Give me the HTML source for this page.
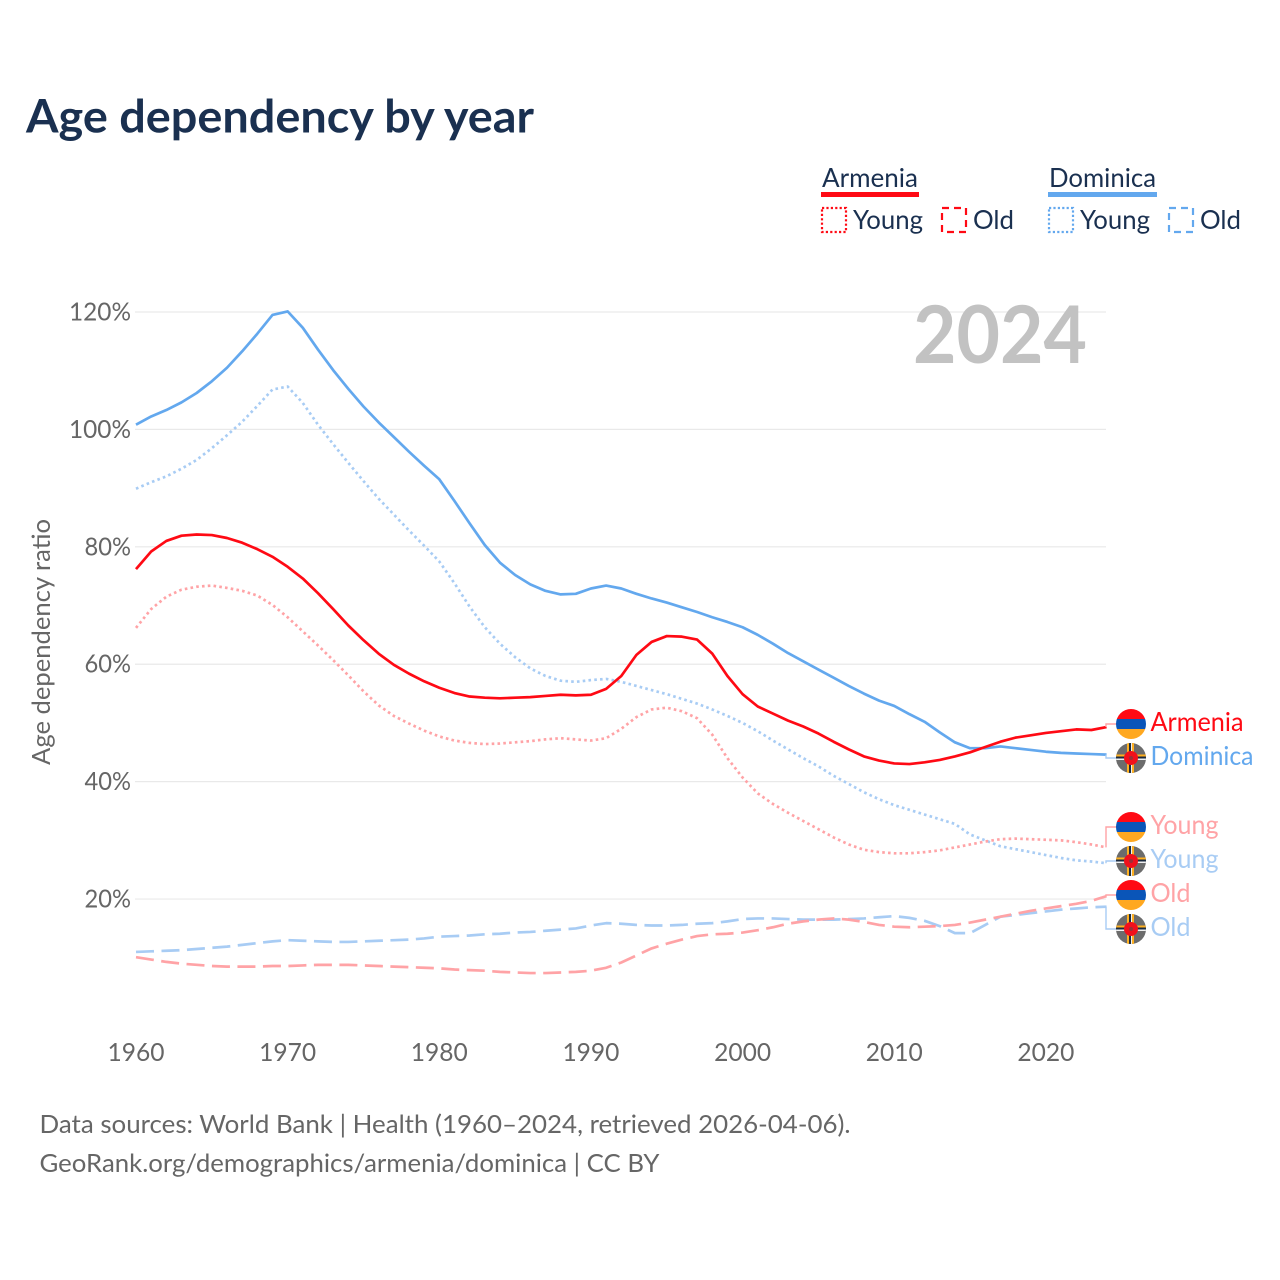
<!DOCTYPE html>
<html lang="en">
<head>
<meta charset="utf-8">
<title>Age dependency by year</title>
<style>
html,body{margin:0;padding:0;background:#fff}
svg{display:block;font-family:"Lato","Carlito","Liberation Sans",sans-serif}
</style>
</head>
<body>
<svg id="chart" xmlns="http://www.w3.org/2000/svg" width="1280" height="1280" viewBox="0 0 1280 1280">
<rect width="1280" height="1280" fill="#ffffff"/>
<text x="26" y="132.5" font-size="46" font-weight="700" fill="#1a3050" textLength="508" lengthAdjust="spacingAndGlyphs">Age dependency by year</text>

<g font-size="26" fill="#1a3050">
<text x="822" y="187" textLength="96" lengthAdjust="spacingAndGlyphs">Armenia</text>
<rect x="821" y="192" width="98" height="5" fill="#ff0a14"/>
<rect x="822" y="208" width="24" height="24" fill="none" stroke="#ff0a14" stroke-width="2.2" stroke-dasharray="2.2 2.2"/>
<text x="853" y="229" textLength="70" lengthAdjust="spacingAndGlyphs">Young</text>
<rect x="942" y="208" width="24" height="24" fill="none" stroke="#ff0a14" stroke-width="2.2" stroke-dasharray="7 5"/>
<text x="973" y="229" textLength="41" lengthAdjust="spacingAndGlyphs">Old</text>
<text x="1049" y="187" textLength="107" lengthAdjust="spacingAndGlyphs">Dominica</text>
<rect x="1048" y="192" width="109" height="5" fill="#63a8ee"/>
<rect x="1049" y="208" width="24" height="24" fill="none" stroke="#63a8ee" stroke-width="2.2" stroke-dasharray="2.2 2.2"/>
<text x="1080" y="229" textLength="70" lengthAdjust="spacingAndGlyphs">Young</text>
<rect x="1169" y="208" width="24" height="24" fill="none" stroke="#63a8ee" stroke-width="2.2" stroke-dasharray="7 5"/>
<text x="1200" y="229" textLength="41" lengthAdjust="spacingAndGlyphs">Old</text>
</g>

<g id="grid"></g>
<g id="yticks"></g>
<g id="xticks"></g>
<text transform="translate(50,642) rotate(-90)" text-anchor="middle" font-size="25" fill="#666666" textLength="246" lengthAdjust="spacingAndGlyphs">Age dependency ratio</text>
<text x="913" y="363" font-size="80" font-weight="700" fill="#c2c2c2" textLength="174" lengthAdjust="spacingAndGlyphs">2024</text>

<g id="series"></g>
<g id="endlabels"></g>

<g font-size="25.5" fill="#666666">
<text x="39.5" y="1133" textLength="811" lengthAdjust="spacingAndGlyphs">Data sources: World Bank | Health (1960–2024, retrieved 2026-04-06).</text>
<text x="39.5" y="1172" textLength="620" lengthAdjust="spacingAndGlyphs">GeoRank.org/demographics/armenia/dominica | CC BY</text>
</g>
</svg>

<script>
var startYear = 1960;
var xTickYears = [1960, 1970, 1980, 1990, 2000, 2010, 2020];
var yTickValues = [20, 40, 60, 80, 100, 120];
var yTickLabels = ["20%", "40%", "60%", "80%", "100%", "120%"];

var armeniaTotal = [76.2,79.2,81,81.9,82.1,82,81.5,80.7,79.6,78.3,76.6,74.6,72.1,69.4,66.6,64.1,61.8,59.9,58.4,57.1,56,55.1,54.5,54.3,54.2,54.3,54.4,54.6,54.8,54.7,54.8,55.8,58,61.6,63.8,64.8,64.7,64.2,61.8,58,54.9,52.8,51.6,50.4,49.4,48.2,46.8,45.5,44.3,43.6,43.1,43,43.3,43.7,44.3,45,45.9,46.8,47.5,47.9,48.3,48.6,48.9,48.8,49.3];
var dominicaTotal = [100.8,102.2,103.3,104.6,106.2,108.2,110.5,113.3,116.3,119.5,120.1,117.3,113.6,110.1,106.9,103.9,101.2,98.7,96.2,93.8,91.5,87.8,84,80.3,77.3,75.2,73.6,72.5,71.9,72,72.9,73.4,72.9,72,71.2,70.5,69.7,68.9,68,67.2,66.3,65,63.5,61.9,60.5,59.1,57.7,56.3,55,53.8,52.9,51.5,50.2,48.4,46.7,45.7,45.7,46,45.7,45.4,45.1,44.9,44.8,44.7,44.6];
var armeniaYoung = [66.2,69.4,71.5,72.7,73.2,73.4,73,72.5,71.7,70.1,68,65.6,63.2,60.7,58.1,55.4,53,51.2,49.9,48.7,47.7,47,46.6,46.4,46.5,46.7,46.9,47.2,47.4,47.2,47,47.4,49,51,52.3,52.6,52,50.8,48,44,40.7,38,36.2,34.7,33.3,31.9,30.5,29.3,28.4,28,27.8,27.8,28,28.3,28.8,29.3,29.8,30.2,30.3,30.2,30.1,30,29.7,29.3,28.8];
var dominicaYoung = [89.9,91,92,93.3,94.8,96.8,99,101.3,104,106.8,107.3,104.5,100.8,97.5,94.3,91.2,88.2,85.5,82.8,80.2,77.5,73.8,69.8,66.3,63.5,61.2,59.3,58,57.2,57,57.3,57.5,57,56.3,55.6,54.9,54.1,53.3,52.3,51.2,50,48.6,47,45.5,44,42.6,41,39.6,38.2,37,36,35.2,34.4,33.6,32.8,31,30,29,28.5,28,27.5,27,26.6,26.4,26.1];
var armeniaOld = [10.1,9.7,9.3,9,8.8,8.6,8.5,8.5,8.5,8.6,8.6,8.7,8.8,8.8,8.8,8.7,8.6,8.5,8.4,8.3,8.2,8,7.9,7.8,7.6,7.5,7.4,7.4,7.5,7.6,7.8,8.3,9.2,10.4,11.6,12.4,13.1,13.7,14,14.1,14.3,14.7,15.2,15.8,16.2,16.5,16.7,16.5,16.1,15.6,15.3,15.2,15.3,15.4,15.6,16,16.5,17,17.5,18,18.4,18.8,19.2,19.7,20.5];
var dominicaOld = [11,11.1,11.2,11.3,11.5,11.7,11.9,12.2,12.5,12.8,13,12.9,12.8,12.7,12.7,12.8,12.9,13,13.1,13.3,13.6,13.7,13.8,14,14.1,14.3,14.4,14.6,14.8,15,15.5,15.9,15.8,15.6,15.5,15.5,15.6,15.8,15.9,16.2,16.6,16.7,16.7,16.6,16.5,16.5,16.5,16.6,16.7,16.9,17.1,16.8,16.3,15.4,14.2,14.2,15.6,17,17.3,17.6,17.9,18.2,18.4,18.6,18.7];

var NS = "http://www.w3.org/2000/svg";
function xScale(year) { return 136 + (year - 1960) * 15.165; }
function yScale(value) { return 1016.5 - value * 5.871; }
function make(tag, attrs, parent) {
  var el = document.createElementNS(NS, tag);
  for (var k in attrs) el.setAttribute(k, attrs[k]);
  parent.appendChild(el);
  return el;
}

var gridG = document.getElementById("grid");
var yTicksG = document.getElementById("yticks");
var xTicksG = document.getElementById("xticks");

yTickValues.forEach(function (v, i) {
  var line = make("line", {x1: 135, x2: 1106, y1: yScale(v), y2: yScale(v), stroke: "#e9e9e9", "stroke-width": 1.2}, gridG);
  
  
  var label = make("text", {x: 131, y: yScale(v) + 8.5, "text-anchor": "end", "font-size": 25, fill: "#666666", textLength: yTickLabels[i].length * 15.5, lengthAdjust: "spacingAndGlyphs"}, yTicksG);
  
  
  label.textContent = yTickLabels[i];
});

xTickYears.forEach(function (yr) {
  var label = make("text", {x: xScale(yr), y: 1061, "text-anchor": "middle", "font-size": 25, fill: "#666666", textLength: 57, lengthAdjust: "spacingAndGlyphs"}, xTicksG);
  
  
  label.textContent = String(yr);
});

var RED = "#ff0a14", BLUE = "#63a8ee", LRED = "#ffa3a6", LBLUE = "#a8ccf4";
var seriesG = document.getElementById("series");

function pointsOf(values) {
  return values.map(function (v, i) {
    return xScale(startYear + i).toFixed(2) + "," + yScale(v).toFixed(2);
  }).join(" ");
}
function drawLine(values, color, dash, name) {
  var attrs = {points: pointsOf(values), fill: "none", stroke: color, "stroke-width": 2.7, "stroke-linejoin": "round"};
  if (dash) attrs["stroke-dasharray"] = dash;
  var el = make("polyline", attrs, seriesG);
  
  
}
var DOT = "2.6 3.2", DASH = "18 7.5";
drawLine(dominicaOld, LBLUE, DASH, "dominica-old-line");
drawLine(armeniaOld, LRED, DASH, "armenia-old-line");
drawLine(dominicaYoung, LBLUE, DOT, "dominica-young-line");
drawLine(armeniaYoung, LRED, DOT, "armenia-young-line");
drawLine(dominicaTotal, BLUE, null, "dominica-total-line");
drawLine(armeniaTotal, RED, null, "armenia-total-line");

var labelsG = document.getElementById("endlabels");

function armeniaFlag(cy, parent, id) {
  var clip = make("clipPath", {id: id}, parent);
  make("circle", {cx: 1131, cy: cy, r: 15}, clip);
  var g = make("g", {"clip-path": "url(#" + id + ")"}, parent);
  
  
  make("rect", {x: 1116, y: cy - 15, width: 30, height: 10.5, fill: "#ff0a14"}, g);
  make("rect", {x: 1116, y: cy - 5, width: 30, height: 10.5, fill: "#0a55b8"}, g);
  make("rect", {x: 1116, y: cy + 5, width: 30, height: 10.5, fill: "#ffa820"}, g);
}
function dominicaFlag(cy, parent, id) {
  var clip = make("clipPath", {id: id}, parent);
  make("circle", {cx: 1131, cy: cy, r: 15}, clip);
  var g = make("g", {"clip-path": "url(#" + id + ")"}, parent);
  
  
  make("rect", {x: 1116, y: cy - 15, width: 30, height: 30, fill: "#6c6c6c"}, g);
  make("rect", {x: 1127, y: cy - 15, width: 2, height: 30, fill: "#ffb020"}, g);
  make("rect", {x: 1129, y: cy - 15, width: 2, height: 30, fill: "#1a2a40"}, g);
  make("rect", {x: 1131, y: cy - 15, width: 1, height: 30, fill: "#f0f0f0"}, g);
  make("rect", {x: 1132, y: cy - 15, width: 2, height: 30, fill: "#ffb020"}, g);
  make("rect", {x: 1116, y: cy - 3.5, width: 30, height: 2, fill: "#ffb020"}, g);
  make("rect", {x: 1116, y: cy - 1.5, width: 30, height: 2, fill: "#1a2a40"}, g);
  make("rect", {x: 1116, y: cy + 0.5, width: 30, height: 1.5, fill: "#f0f0f0"}, g);
  make("circle", {cx: 1131, cy: cy, r: 7, fill: "#f0101c"}, g);
  make("circle", {cx: 1131, cy: cy, r: 2, fill: "#9a3038"}, g);
}
function endLabel(values, flagY, flagFn, text, width, color, lineColor, id) {
  var yEnd = yScale(values[values.length - 1]);
  var conn = make("polyline", {points: "1106," + yEnd + " 1106," + flagY + " 1117," + flagY, fill: "none", stroke: lineColor, "stroke-width": 1.4}, labelsG);
  
  
  flagFn(flagY, labelsG, id);
  var t = make("text", {x: 1150.5, y: flagY + 7, "font-size": 26, fill: color, textLength: width, lengthAdjust: "spacingAndGlyphs"}, labelsG);
  
  
  t.textContent = text;
}
endLabel(armeniaTotal, 724, armeniaFlag, "Armenia", 93, RED, LRED, "c1");
endLabel(dominicaTotal, 758, dominicaFlag, "Dominica", 103, BLUE, LBLUE, "c2");
endLabel(armeniaYoung, 827, armeniaFlag, "Young", 68, LRED, LRED, "c3");
endLabel(dominicaYoung, 861, dominicaFlag, "Young", 68, LBLUE, LBLUE, "c4");
endLabel(armeniaOld, 895, armeniaFlag, "Old", 40, LRED, LRED, "c5");
endLabel(dominicaOld, 929, dominicaFlag, "Old", 40, LBLUE, LBLUE, "c6");
</script>
</body>
</html>
